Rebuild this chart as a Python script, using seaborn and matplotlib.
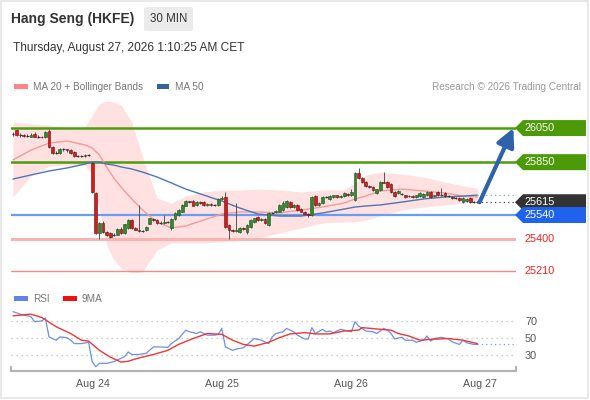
import numpy as np
import pandas as pd
import matplotlib
matplotlib.use("Agg")
import matplotlib.pyplot as plt
import matplotlib.patches as mpatches
import matplotlib.transforms as mtransforms
import seaborn as sns

sns.set_theme(style="white")
plt.rcParams['font.family'] = ['Liberation Sans', 'DejaVu Sans']

# ---------------- data ----------------
opens = [26015, 26040, 26010, 26010, 26005, 26000, 26015, 26000, 26000, 25995,
         26030, 25940, 25905, 25905, 25925, 25925, 25920, 25910, 25885, 25885,
         25885, 25890, 25845, 25670, 25435, 25495, 25440, 25435, 25425, 25425,
         25460, 25435, 25465, 25510, 25465, 25455, 25445, 25450, 25490, 25515,
         25510, 25495, 25495, 25500, 25465, 25515, 25540, 25560, 25595, 25620,
         25620, 25600, 25615, 25615, 25600, 25605, 25600, 25600, 25635, 25645,
         25480, 25455, 25445, 25440, 25465, 25440, 25470, 25500, 25530, 25510,
         25515, 25480, 25550, 25555, 25560, 25570, 25585, 25615, 25585, 25600,
         25575, 25560, 25545, 25540, 25650, 25600, 25610, 25645, 25635, 25645,
         25655, 25645, 25650, 25665, 25655, 25630, 25785, 25755, 25735, 25710,
         25705, 25670, 25685, 25735, 25735, 25720, 25675, 25670, 25665, 25655,
         25650, 25650, 25645, 25650, 25645, 25655, 25675, 25650, 25675, 25655,
         25670, 25650, 25645, 25640, 25640, 25615, 25620, 25640, 25615, 25615]
closes = [26015, 26010, 26010, 26005, 26005, 26010, 26000, 26000, 25995, 26025,
          25940, 25905, 25905, 25925, 25925, 25920, 25905, 25885, 25885, 25885,
          25890, 25890, 25675, 25435, 25495, 25440, 25425, 25410, 25425, 25460,
          25435, 25485, 25510, 25465, 25455, 25445, 25445, 25470, 25520, 25510,
          25495, 25495, 25500, 25500, 25515, 25550, 25570, 25600, 25620, 25615,
          25595, 25615, 25610, 25600, 25605, 25600, 25600, 25635, 25640, 25470,
          25455, 25445, 25455, 25465, 25460, 25480, 25510, 25520, 25510, 25515,
          25495, 25550, 25550, 25565, 25600, 25610, 25620, 25585, 25600, 25570,
          25560, 25545, 25540, 25645, 25600, 25610, 25645, 25645, 25650, 25655,
          25645, 25650, 25670, 25655, 25675, 25785, 25755, 25735, 25710, 25705,
          25685, 25690, 25735, 25730, 25705, 25675, 25650, 25680, 25665, 25645,
          25650, 25645, 25655, 25670, 25665, 25675, 25645, 25655, 25655, 25655,
          25650, 25650, 25640, 25640, 25630, 25640, 25635, 25615, 25615, 25615]
highs = [26025, 26045, 26020, 26015, 26015, 26020, 26025, 26010, 26005, 26035,
         26045, 25945, 25915, 25935, 25935, 25930, 25930, 25915, 25890, 25890,
         25895, 25895, 25850, 25675, 25500, 25505, 25445, 25440, 25435, 25465,
         25470, 25490, 25515, 25515, 25470, 25600, 25455, 25475, 25525, 25525,
         25515, 25505, 25540, 25505, 25520, 25555, 25575, 25605, 25630, 25625,
         25630, 25625, 25620, 25625, 25610, 25610, 25605, 25640, 25650, 25675,
         25485, 25460, 25610, 25470, 25470, 25485, 25515, 25525, 25535, 25520,
         25520, 25555, 25560, 25570, 25605, 25620, 25630, 25625, 25605, 25605,
         25580, 25565, 25550, 25650, 25655, 25615, 25650, 25650, 25655, 25660,
         25660, 25655, 25675, 25670, 25690, 25790, 25815, 25765, 25740, 25715,
         25710, 25695, 25740, 25790, 25740, 25725, 25680, 25685, 25670, 25660,
         25655, 25655, 25660, 25675, 25670, 25680, 25680, 25660, 25680, 25700,
         25675, 25655, 25650, 25645, 25645, 25645, 25640, 25645, 25620, 25620]
lows = [26005, 26005, 26000, 26000, 25995, 25995, 25995, 25990, 25990, 25990,
        25935, 25895, 25895, 25900, 25915, 25910, 25900, 25880, 25880, 25880,
        25880, 25885, 25670, 25430, 25400, 25435, 25415, 25405, 25415, 25420,
        25430, 25430, 25460, 25460, 25450, 25440, 25440, 25445, 25485, 25505,
        25490, 25490, 25490, 25495, 25455, 25510, 25535, 25555, 25590, 25610,
        25590, 25595, 25605, 25595, 25595, 25595, 25595, 25595, 25630, 25465,
        25400, 25440, 25440, 25435, 25455, 25430, 25465, 25495, 25505, 25505,
        25490, 25475, 25545, 25550, 25555, 25565, 25580, 25580, 25580, 25565,
        25555, 25540, 25530, 25535, 25595, 25595, 25605, 25640, 25630, 25640,
        25640, 25640, 25645, 25650, 25650, 25625, 25750, 25730, 25705, 25700,
        25680, 25665, 25680, 25725, 25700, 25670, 25645, 25665, 25660, 25640,
        25645, 25640, 25640, 25645, 25640, 25650, 25640, 25645, 25650, 25650,
        25645, 25645, 25635, 25635, 25625, 25610, 25615, 25610, 25610, 25610]

# indicator samples (bar index -> value)
ind_x = [0, 5, 10, 15, 20, 22, 24, 26, 28, 30, 33, 36, 40, 44, 48, 53, 58, 63, 68, 74,
         80, 86, 92, 95, 98, 102, 108, 114, 120, 125, 129]
bb_upper = [26085, 26074, 26068, 26050, 26056, 26127, 26191, 26209, 26203, 26185, 26085,
            25880, 25640, 25610, 25651, 25675, 25687, 25687, 25692, 25687, 25675, 25687,
            25687, 25728, 25775, 25792, 25780, 25763, 25734, 25710, 25698]
bb_lower = [25646, 25769, 25827, 25833, 25833, 25775, 25569, 25364, 25276, 25229, 25200,
            25206, 25335, 25376, 25376, 25376, 25382, 25393, 25405, 25434, 25464, 25493,
            25499, 25499, 25511, 25534, 25569, 25587, 25599, 25610, 25616]
ma20 = [25863, 25921, 25962, 25974, 25951, 25933, 25892, 25822, 25757, 25704, 25634,
        25569, 25499, 25464, 25476, 25511, 25546, 25558, 25558, 25552, 25569, 25587,
        25610, 25634, 25651, 25681, 25692, 25681, 25669, 25651, 25646]
ma50 = [25751, 25775, 25798, 25816, 25839, 25851, 25851, 25839, 25833, 25822, 25810,
        25792, 25763, 25728, 25692, 25657, 25622, 25581, 25546, 25534, 25534, 25552,
        25575, 25587, 25593, 25599, 25616, 25634, 25646, 25651, 25657]

rsi_x = [0, 2, 5, 6, 8, 9, 10, 12, 13, 15, 16, 17, 19, 21, 22, 23, 24, 26, 28, 30,
         31, 32, 33, 35, 37, 39, 41, 43, 44, 46, 48, 49, 51, 52, 54, 56, 57, 58, 59, 61,
         62, 64, 67, 69, 71, 72, 73, 75, 76, 78, 79, 81, 82, 83, 84, 86, 87, 88, 89, 91,
         93, 94, 95, 96, 98, 100, 101, 103, 104, 105, 106, 108, 109, 111, 112, 114, 115,
         116, 117, 119, 121, 122, 124, 125, 126, 128, 129]
rsi_v = [81, 78, 75, 69, 70, 73.5, 51, 47, 51, 50, 47, 43, 43, 44.5, 21.5, 15.5, 19.5,
         19.5, 21.5, 25.5, 27.5, 33, 30, 30, 31.5, 39, 39, 38.5, 43, 49, 59, 57, 55, 57,
         53, 53, 54, 61, 39, 35, 36.5, 38, 49, 47, 43, 51, 55, 57, 61, 57, 53, 48.5, 48.5,
         62, 55, 60, 57, 58, 56, 60, 58, 57, 69, 64, 58, 57, 55, 61, 59, 55, 48.5, 50.5,
         47, 47, 44.5, 47, 52, 46, 49, 50.5, 48.5, 45, 42, 47, 44, 42, 42]
ma9_x = [0, 5, 8, 12, 16, 19, 21, 24, 27, 30, 32, 35, 39, 43, 46, 50, 54, 58, 61, 64,
         67, 71, 74, 77, 81, 84, 88, 92, 96, 97, 102, 105, 107, 110, 113, 116, 121, 125, 129]
ma9_v = [76, 78, 74, 63, 55, 47, 46, 35, 27, 21, 22, 26, 30, 35, 42, 49, 55, 54, 47, 42,
         40, 44.5, 50, 54.5, 56, 54.5, 54.5, 58, 59, 62, 60, 59, 55, 52, 47, 48, 49, 47, 43]

date_labels = ["Aug 24", "Aug 25", "Aug 26", "Aug 27"]
date_pos = [22.2, 58.1, 93.9, 129.7]
rsi_ticks = [30, 50, 70]

resist_levels = [26050, 25850]
support_levels = [25540, 25400, 25210]
last_price = 25615

# ---------------- figure ----------------
W, H = 590, 400
fig = plt.figure(figsize=(W / 100, H / 100), dpi=100)
fig.patch.set_facecolor("white")

def frac_box(l, t, r, b):
    return [l / W, 1 - b / H, (r - l) / W, (b - t) / H]

ax = fig.add_axes(frac_box(11, 95, 516, 285))
ax2 = fig.add_axes(frac_box(11, 305, 516, 371))
for a in (ax, ax2):
    a.set_facecolor("none")
    for s in a.spines.values():
        s.set_visible(False)

XL = (-0.556, 139.72)
ax.set_xlim(*XL)
ax.set_ylim(25129.5, 26244)
ax.set_xticks([]); ax.set_yticks([])

# Bollinger fill + MAs
ax.fill_between(ind_x, bb_lower, bb_upper, color="#ffe1e1", lw=0, zorder=1)
sns.lineplot(x=ind_x, y=ma20, ax=ax, color="#f59a9a", linewidth=1.0, estimator=None, zorder=2)
sns.lineplot(x=ind_x, y=ma50, ax=ax, color="#4d76b4", linewidth=1.0, estimator=None, zorder=2)

# level lines
ax.axhline(resist_levels[0], color="#4e9c0c", lw=1.8, zorder=1.5)
ax.axhline(resist_levels[1], color="#4e9c0c", lw=1.8, zorder=1.5)
ax.axhline(support_levels[0], color="#6a9cf2", lw=1.6, zorder=1.5)
ax.axhline(support_levels[1], color="#f8b3b3", lw=2.2, zorder=1.5)
ax.axhline(support_levels[2], color="#f28a8a", lw=1.0, zorder=1.5)

# candles
x = np.arange(len(closes))
o = np.array(opens); c = np.array(closes); h = np.array(highs); l = np.array(lows)
ax.vlines(x, l, h, color="#555555", lw=0.7, zorder=3)
up = c > o
dn = c < o
fl = c == o
bw = 0.75
ax.bar(x[up], (c - o)[up], bottom=o[up], width=bw, color="#2f8a2f",
       edgecolor="#1f4f1f", lw=0.4, zorder=4)
ax.bar(x[dn], (o - c)[dn], bottom=c[dn], width=bw, color="#dd1818",
       edgecolor="#5a1010", lw=0.4, zorder=4)
ax.hlines(c[fl], x[fl] - bw / 2, x[fl] + bw / 2, color="#333333", lw=0.9, zorder=4)

# dotted extensions
xi_last = x[-1]
ax.plot([xi_last, XL[1]], [ma50[-1], ma50[-1]], ls=(0, (1, 2.5)), color="#8aa4cc", lw=0.9, zorder=2)
ax.plot([xi_last, XL[1]], [last_price, last_price], ls=(0, (1, 2.5)), color="#444444", lw=0.9, zorder=2)

# arrow
ax.annotate("", xy=(139.0, resist_levels[0]), xytext=(xi_last + 0.6, last_price),
            arrowprops=dict(arrowstyle="-|>,head_length=0.9,head_width=0.45",
                            color="#2f62a8", lw=3.0, shrinkA=0, shrinkB=0),
            annotation_clip=False, zorder=6)

# right tags
fig.canvas.draw()
xr = ax.transAxes.transform((1, 0))[0]

def tag(value, fc, tc="white"):
    yc = ax.transData.transform((0, value))[1]
    if fc is not None:
        pts = [(xr - 1, yc), (xr + 7, yc + 8), (xr + 70, yc + 8), (xr + 70, yc - 8), (xr + 7, yc - 8)]
        poly = mpatches.Polygon(pts, closed=True, transform=mtransforms.IdentityTransform(),
                                facecolor=fc, edgecolor="none", zorder=10, clip_on=False)
        ax.add_patch(poly)
    ax.text(1.0178, value, f"{value}", transform=ax.get_yaxis_transform(), color=tc,
            fontsize=7.8, va="center", ha="left", clip_on=False, zorder=11)

tag(resist_levels[0], "#4c9a08")
tag(resist_levels[1], "#4c9a08")
tag(last_price, "#333333")
tag(support_levels[0], "#1f62ee")
tag(support_levels[1], None, "#ee2020")
tag(support_levels[2], None, "#ee2020")

# RSI panel
ax2.set_xlim(*XL)
ax2.set_ylim(10.4, 88.9)
for v in rsi_ticks:
    ax2.axhline(v, color="#bdbdbd", lw=0.9, ls=(0, (1, 3)), zorder=1)
sns.lineplot(x=rsi_x, y=rsi_v, ax=ax2, color="#6d8fe6", linewidth=0.9, estimator=None, zorder=3)
sns.lineplot(x=ma9_x, y=ma9_v, ax=ax2, color="#f03535", linewidth=1.0, estimator=None, zorder=3)
ax2.plot([rsi_x[-1], XL[1]], [rsi_v[-1], rsi_v[-1]], ls=(0, (1, 2.5)), color="#7d9be6", lw=0.9)
ax2.plot([0, 0, 1, 1], [0.06, 0, 0, 0.06], transform=ax2.transAxes, color="#b3b3b3",
         lw=1.6, clip_on=False, solid_joinstyle="miter")
ax2.set_xticks(date_pos)
ax2.set_xticklabels(date_labels)
ax2.yaxis.tick_right()
ax2.set_yticks(rsi_ticks)
ax2.set_yticklabels([str(t) for t in rsi_ticks])
ax2.tick_params(axis="x", length=0, pad=6, labelsize=7.7, labelcolor="#555555")
ax2.tick_params(axis="y", length=0, pad=6.5, labelsize=7.8, labelcolor="#555555")
ax2.set_xlabel(""); ax2.set_ylabel("")
ax.set_xlabel(""); ax.set_ylabel("")

# header texts
def fx(px): return px / W
def fy(py): return 1 - py / H

fig.text(fx(11), fy(19), "Hang Seng (HKFE)", fontsize=10, fontweight="bold", color="#333333",
         va="center", ha="left")
fig.add_artist(mpatches.FancyBboxPatch((fx(144), fy(31)), fx(193) - fx(144), fy(7) - fy(31),
                                       boxstyle="round,pad=0,rounding_size=0.004",
                                       transform=fig.transFigure, facecolor="#ebebeb",
                                       edgecolor="none"))
fig.text(fx(168.5), fy(19), "30 MIN", fontsize=8.3, color="#333333", va="center", ha="center")
fig.text(fx(13), fy(48), "Thursday, August 27, 2026 1:10:25 AM CET", fontsize=8.6,
         color="#333333", va="center", ha="left")

# legends
def swatch(l, t, r, b, col):
    fig.add_artist(mpatches.Rectangle((fx(l), fy(b)), fx(r) - fx(l), fy(t) - fy(b),
                                      transform=fig.transFigure, facecolor=col, edgecolor="none"))

swatch(14, 84, 28, 89, "#ff8585")
fig.text(fx(33), fy(86.5), "MA 20 + Bollinger Bands", fontsize=7.2, color="#777777", va="center")
swatch(157, 84, 169, 89, "#3262a2")
fig.text(fx(175), fy(86.5), "MA 50", fontsize=7.2, color="#777777", va="center")
fig.text(fx(581), fy(86.5), "Research \u00a9 2026 Trading Central", fontsize=7.2,
         color="#999999", va="center", ha="right")

swatch(14, 296, 28, 301, "#5f84e6")
fig.text(fx(33), fy(298.5), "RSI", fontsize=7.2, color="#777777", va="center")
swatch(63, 296, 77, 301, "#ee1111")
fig.text(fx(82), fy(298.5), "9MA", fontsize=7.2, color="#777777", va="center")

# outer frame
fig.add_artist(mpatches.Rectangle((0.5, 2.5), 587.5, 397, transform=mtransforms.IdentityTransform(),
                                  facecolor="none", edgecolor="#e4e4e4", lw=1.2))

fig.savefig("out.png", dpi=100, facecolor="white")
